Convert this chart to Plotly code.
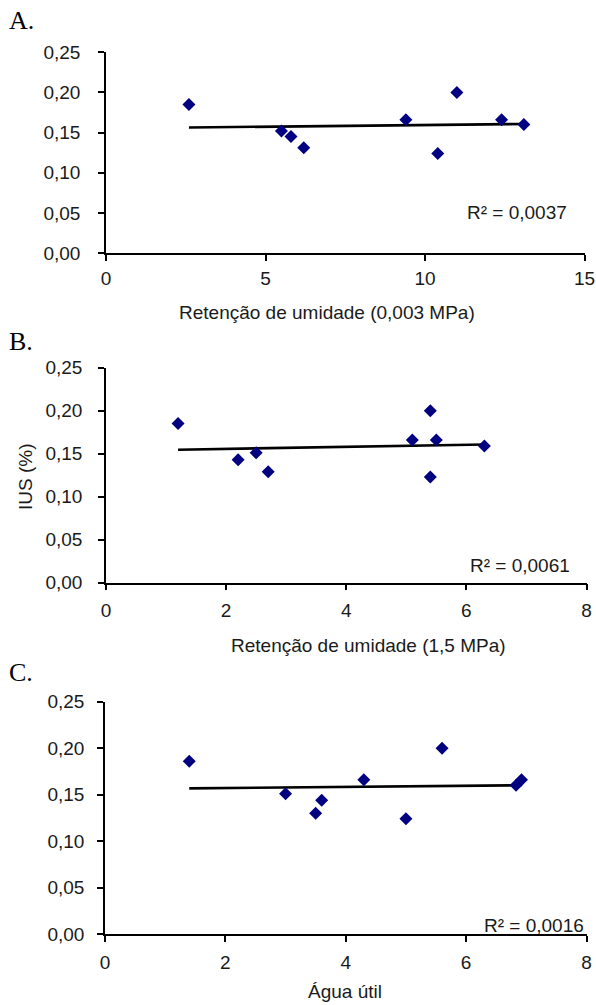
import numpy as np
import plotly.graph_objects as go

# ---- data ----
xa = [2.6, 5.5, 5.8, 6.2, 9.4, 10.4, 11.0, 12.4, 13.1]
ya = [0.185, 0.152, 0.145, 0.131, 0.166, 0.124, 0.200, 0.166, 0.160]
xb = [1.2, 2.2, 2.5, 2.7, 5.1, 5.4, 5.5, 5.4, 6.3]
yb = [0.185, 0.143, 0.151, 0.129, 0.166, 0.200, 0.166, 0.123, 0.159]
xc = [1.4, 3.0, 3.5, 3.6, 4.3, 5.0, 5.6, 6.83, 6.92]
yc = [0.186, 0.151, 0.130, 0.144, 0.166, 0.124, 0.200, 0.160, 0.166]

r2_labels = ["R² = 0,0037", "R² = 0,0061", "R² = 0,0016"]
panel_labels = ["A.", "B.", "C."]
x_titles = ["Retenção de umidade (0,003 MPa)", "Retenção de umidade (1,5 MPa)", "Água útil"]
y_title = "IUS (%)"
x_ranges = [[0, 15], [0, 8], [0, 8]]
x_dticks = [5, 2, 2]
y_ticks = [0.0, 0.05, 0.10, 0.15, 0.20, 0.25]

W, H = 596, 1005
def px(x): return x / W
def py(y): return 1 - y / H

# panel geometry (screen pixels): x0, x1, ytop, ybottom
geom = [(106, 584.5, 52.3, 253), (106, 586.5, 367.7, 582.7), (105, 586.5, 701.7, 934)]
x_standoff = [1, 4, 4]
y_standoff = [14, 12, 9]

fig = go.Figure()
FONT = "Liberation Sans, Arial, sans-serif"
TXT = "#1a1a1a"
FS = 19
series = [(xa, ya), (xb, yb), (xc, yc)]
annotations = []
for i, ((xs, ys), (x0, x1, yt, yb_)) in enumerate(zip(series, geom)):
    sfx = "" if i == 0 else str(i + 1)
    xs_ = np.array(xs); ys_ = np.array(ys)
    m, b = np.polyfit(xs_, ys_, 1)
    lx = np.array([xs_.min(), xs_.max()])
    fig.add_trace(go.Scatter(x=lx, y=m * lx + b, mode="lines",
                             line=dict(color="black", width=2.6),
                             xaxis="x" + sfx, yaxis="y" + sfx, showlegend=False))
    fig.add_trace(go.Scatter(x=xs, y=ys, mode="markers",
                             marker=dict(symbol="diamond", size=10, color="#000080"),
                             xaxis="x" + sfx, yaxis="y" + sfx, showlegend=False))
    axcommon = dict(showgrid=False, zeroline=False, showline=True, linecolor="black",
                    linewidth=1.5, ticks="outside", ticklen=6, tickwidth=1.5, automargin=False,
                    ticklabeloverflow="allow",
                    tickcolor="black", tickfont=dict(family=FONT, size=FS, color=TXT))
    fig.update_layout(**{
        "xaxis" + sfx: dict(domain=[px(x0), px(x1)], range=x_ranges[i], dtick=x_dticks[i],
                           tick0=0, anchor="y" + sfx, ticklabelstandoff=x_standoff[i], **axcommon),
        "yaxis" + sfx: dict(domain=[py(yb_), py(yt)], range=[0, 0.25], tickvals=y_ticks,
                           tickformat=".2f", anchor="x" + sfx, ticklabelstandoff=y_standoff[i], **axcommon),
    })

# text annotations (screen pixels)
txt_pos = [(327, 312), (368, 645), (345, 991)]
r2_pos = [(517, 212), (520, 565), (534, 925)]
lab_pos = [(7, 20), (7, 341), (7, 672)]
for i in range(3):
    annotations.append(dict(x=px(txt_pos[i][0]), y=py(txt_pos[i][1]), xref="paper", yref="paper",
                            text=x_titles[i], showarrow=False, xanchor="center", yanchor="middle",
                            font=dict(family=FONT, size=FS, color=TXT)))
    annotations.append(dict(x=px(r2_pos[i][0]), y=py(r2_pos[i][1]), xref="paper", yref="paper",
                            text=r2_labels[i], showarrow=False, xanchor="center", yanchor="middle",
                            font=dict(family=FONT, size=FS, color=TXT)))
    annotations.append(dict(x=px(lab_pos[i][0]), y=py(lab_pos[i][1]), xref="paper", yref="paper",
                            text=panel_labels[i], showarrow=False, xanchor="left", yanchor="middle",
                            font=dict(family="Liberation Serif, Times New Roman, serif", size=26, color="black")))
annotations.append(dict(x=px(25), y=py(477), xref="paper", yref="paper", text=y_title,
                        showarrow=False, textangle=-90, xanchor="center", yanchor="middle",
                        font=dict(family=FONT, size=FS, color=TXT)))

fig.update_layout(width=W, height=H, margin=dict(l=0, r=0, t=0, b=0),
                  paper_bgcolor="white", plot_bgcolor="white", separators=",.",
                  annotations=annotations, showlegend=False)
fig.write_html("out.html", config={"displayModeBar": False},
               post_script="document.body.style.margin='0';document.body.style.overflow='hidden';")
